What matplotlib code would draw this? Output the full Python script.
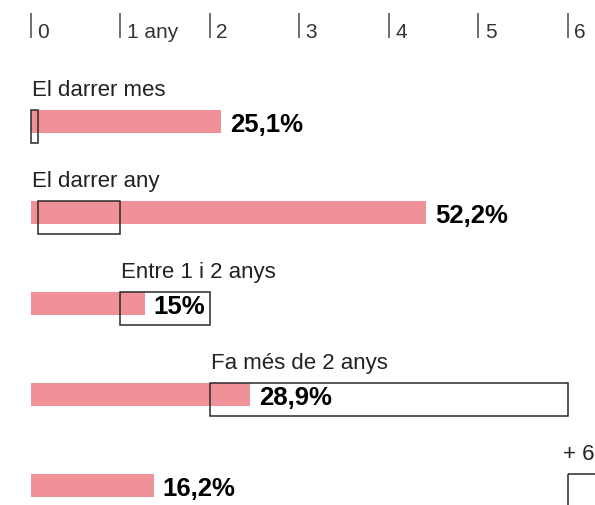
import matplotlib.pyplot as plt
from matplotlib.patches import Rectangle

plt.rcParams['font.family'] = ['Liberation Sans', 'DejaVu Sans']

# Share of answers per period, and the time span (in years) each period covers
periods = ['El darrer mes', 'El darrer any', 'Entre 1 i 2 anys', 'Fa més de 2 anys', '+ 6']
shares = [25.1, 52.2, 15.0, 28.9, 16.2]
share_labels = ['25,1%', '52,2%', '15%', '28,9%', '16,2%']
span_start = [0, 1 / 12, 1, 2, 6]
span_end = [1 / 12, 1, 2, 6, 7.5]
label_x = [0, 0, 1, 2, 6]

year_ticks = [0, 1, 2, 3, 4, 5, 6]
year_labels = ['0', '1 any', '2', '3', '4', '5', '6']

# bars share the year axis: one percentage point is this many years wide
years_per_point = 0.0846

pink = '#f0919a'
ink = '#222222'

fig = plt.figure(figsize=(5.95, 5.05), dpi=100)
ax = fig.add_axes([0, 0, 1, 1])
ax.set_xlim(-0.346, 6.302)
ax.set_ylim(4.216, -1.333)
ax.axis('off')

rows = range(len(periods))

# pink bars
ax.barh(list(rows), [s * years_per_point for s in shares], height=0.25,
        left=0, color=pink, zorder=1)

for i in rows:
    # outline of the period's time span
    ax.add_patch(Rectangle((span_start[i], i - 0.125), span_end[i] - span_start[i], 0.365,
                           fill=False, edgecolor='#2a2a2a', lw=1.1, zorder=3))
    ax.text(label_x[i] + 0.01 if i < 4 else label_x[i] - 0.06, i - 0.275, periods[i],
            ha='left', va='baseline', fontsize=16, color=ink)
    ax.text(shares[i] * years_per_point + 0.1, i + 0.12, share_labels[i],
            ha='left', va='baseline', fontsize=18.5, fontweight='bold', color='black', zorder=4)

# year scale on top
ax.vlines(year_ticks, -1.19, -0.915, color='#555555', lw=1.2)
for t, lab in zip(year_ticks, year_labels):
    ax.text(t + 0.07, -0.92, lab, ha='left', va='baseline', fontsize=15, color='#333333')

fig.savefig('out.png', dpi=100)
